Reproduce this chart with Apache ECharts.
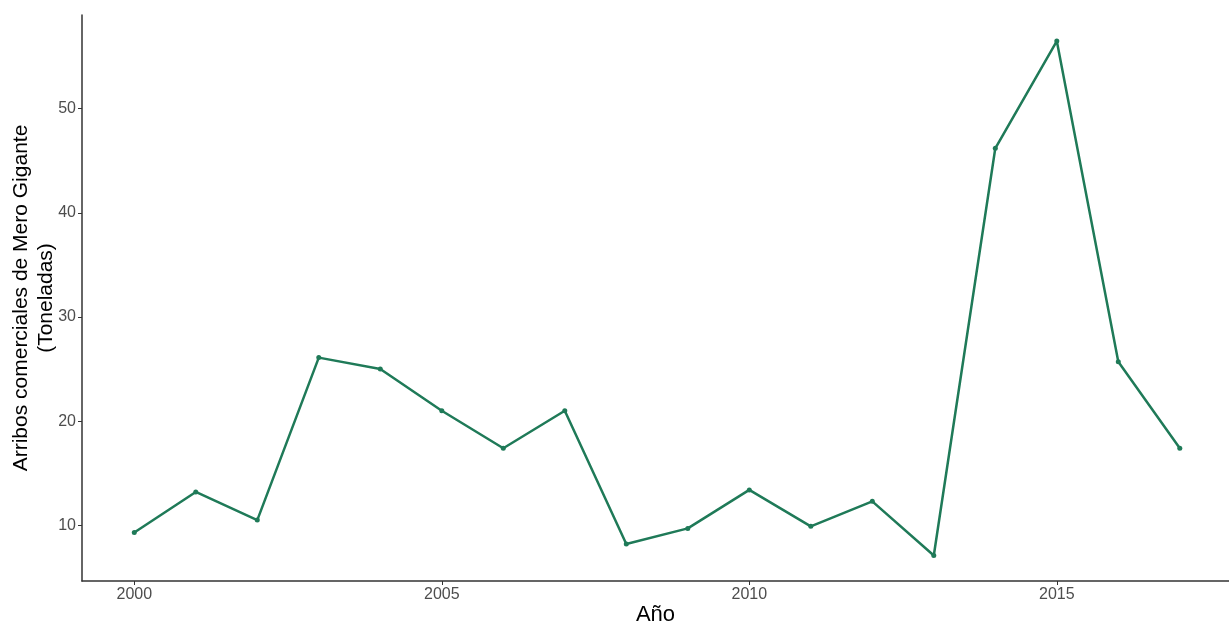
<!DOCTYPE html>
<html>
<head>
<meta charset="utf-8">
<script src="https://cdn.jsdelivr.net/npm/echarts@6/dist/echarts.min.js"></script>
<style>
  html, body { margin: 0; padding: 0; background: #fff; }
  #chart { width: 1229px; height: 624px; }
</style>
</head>
<body>
<div id="chart"></div>
<script>
// data
const years = [2000, 2001, 2002, 2003, 2004, 2005, 2006, 2007, 2008, 2009, 2010, 2011, 2012, 2013, 2014, 2015, 2016, 2017]
const arribos = [9.3, 13.2, 10.5, 26.1, 25.0, 21.0, 17.4, 21.0, 8.2, 9.7, 13.4, 9.9, 12.3, 7.1, 46.2, 56.5, 25.7, 17.4]
const xTicks = [2000, 2005, 2010, 2015]
const yTicks = [10, 20, 30, 40, 50]

const lineColor = '#1f7a58'
const fontFam = '"Liberation Sans", Arial, sans-serif'

const makePoints = () => {
    let pts = []
    for (let i = 0; i < years.length; i++) {
        pts.push([years[i], arribos[i]])
    }
    return pts
}

var dom = document.getElementById('chart');
var myChart = echarts.init(dom, null, { renderer: 'canvas' });

var option = {
    animation: false,
    backgroundColor: '#fff',
    grid: { left: 82, right: 0, top: 15, bottom: 43, containLabel: false, outerBoundsMode: 'none' },
    xAxis: {
        type: 'value',
        min: 1999.15,
        max: 2017.8,
        name: 'Año',
        nameLocation: 'middle',
        nameGap: 23,
        nameMoveOverlap: false,
        nameTextStyle: { fontSize: 22, color: '#000', fontFamily: fontFam },
        splitLine: { show: false },
        axisLine: { show: true, lineStyle: { color: '#333', width: 1.5 } },
        axisTick: { show: true, customValues: xTicks, length: 4, lineStyle: { color: '#333' } },
        axisLabel: {
            customValues: xTicks,
            fontSize: 16,
            color: '#4d4d4d',
            fontFamily: fontFam,
            margin: 6,
            formatter: (v) => String(v)
        }
    },
    yAxis: {
        type: 'value',
        min: 4.65,
        max: 59.0,
        name: 'Arribos comerciales de Mero Gigante\n(Toneladas)',
        nameLocation: 'middle',
        nameRotate: 90,
        nameGap: 23,
        nameMoveOverlap: false,
        nameTextStyle: { fontSize: 21, color: '#000', fontFamily: fontFam, lineHeight: 25 },
        splitLine: { show: false },
        axisLine: { show: true, lineStyle: { color: '#333', width: 1.5 } },
        axisTick: { show: true, customValues: yTicks, length: 4, lineStyle: { color: '#333' } },
        axisLabel: { customValues: yTicks, fontSize: 16, color: '#4d4d4d', fontFamily: fontFam, margin: 6 }
    },
    series: [
        {
            type: 'line',
            data: makePoints(),
            symbol: 'circle',
            symbolSize: 5,
            lineStyle: { color: lineColor, width: 2.5 },
            itemStyle: { color: lineColor }
        }
    ]
};

myChart.setOption(option);
</script>
</body>
</html>
